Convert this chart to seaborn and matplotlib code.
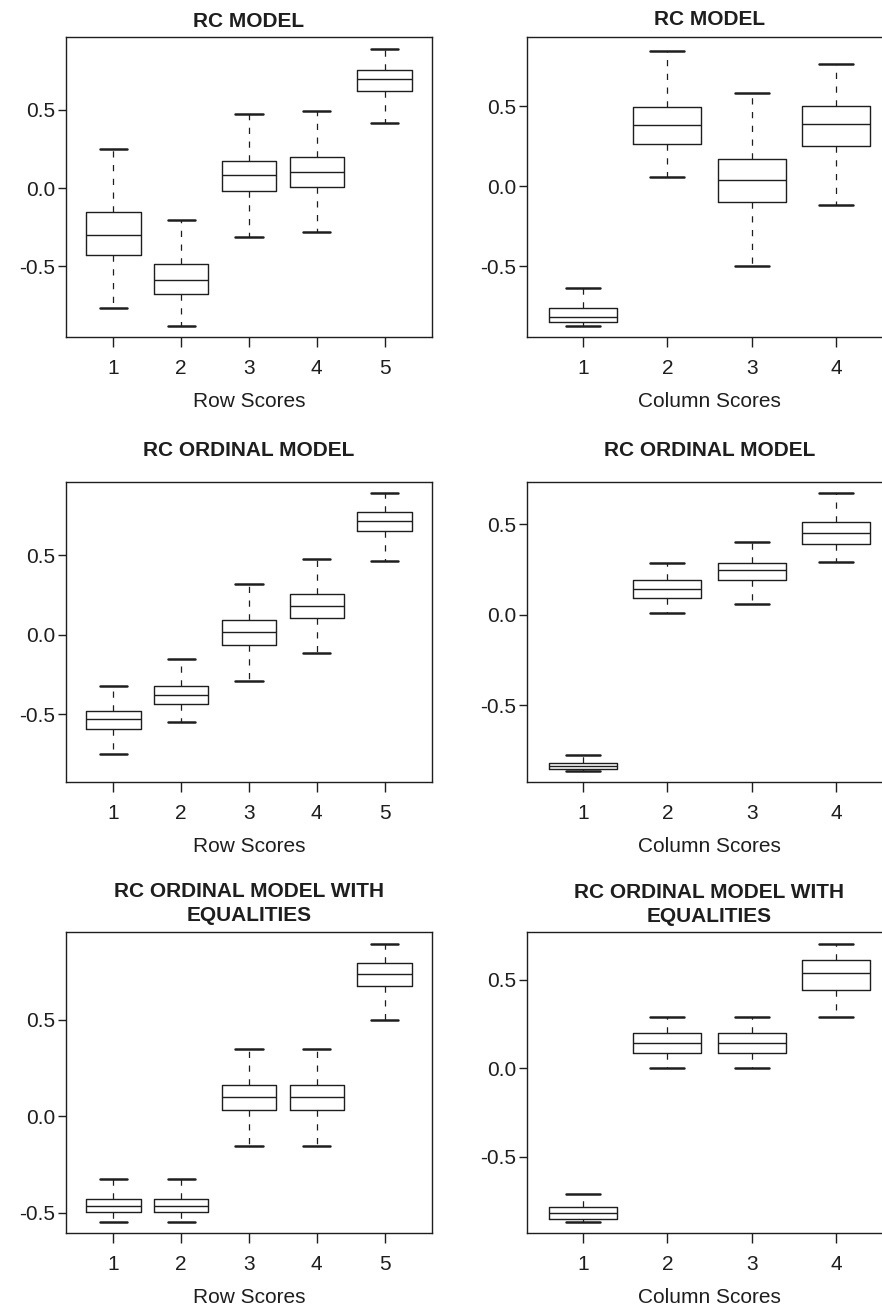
import numpy as np
import pandas as pd
import matplotlib
matplotlib.use("Agg")
import matplotlib.pyplot as plt
import seaborn as sns

# ---- Data: five-number summaries (lower whisker, Q1, median, Q3, upper whisker) ----
row_cats = ["1", "2", "3", "4", "5"]
col_cats = ["1", "2", "3", "4"]

rc_row = [
    [-0.764, -0.430, -0.298, -0.155, 0.249],
    [-0.883, -0.674, -0.585, -0.487, -0.202],
    [-0.311, -0.021, 0.081, 0.174, 0.470],
    [-0.279, 0.004, 0.100, 0.200, 0.489],
    [0.417, 0.621, 0.696, 0.753, 0.889],
]
rc_col = [
    [-0.873, -0.846, -0.813, -0.761, -0.632],
    [0.058, 0.262, 0.380, 0.495, 0.842],
    [-0.497, -0.100, 0.037, 0.170, 0.582],
    [-0.116, 0.254, 0.389, 0.501, 0.763],
]
ord_row = [
    [-0.748, -0.589, -0.530, -0.480, -0.319],
    [-0.547, -0.432, -0.379, -0.319, -0.153],
    [-0.291, -0.061, 0.017, 0.092, 0.323],
    [-0.115, 0.107, 0.182, 0.256, 0.476],
    [0.468, 0.652, 0.719, 0.776, 0.893],
]
ord_col = [
    [-0.865, -0.856, -0.839, -0.821, -0.775],
    [0.007, 0.090, 0.142, 0.192, 0.286],
    [0.057, 0.194, 0.249, 0.288, 0.402],
    [0.290, 0.391, 0.452, 0.511, 0.673],
]
eq_row = [
    [-0.548, -0.498, -0.465, -0.429, -0.327],
    [-0.548, -0.498, -0.465, -0.429, -0.327],
    [-0.157, 0.033, 0.097, 0.159, 0.349],
    [-0.157, 0.033, 0.097, 0.159, 0.349],
    [0.497, 0.673, 0.739, 0.792, 0.894],
]
eq_col = [
    [-0.870, -0.853, -0.819, -0.785, -0.711],
    [0.000, 0.083, 0.142, 0.200, 0.291],
    [0.000, 0.083, 0.142, 0.200, 0.291],
    [0.291, 0.443, 0.536, 0.611, 0.702],
]

titles = ["RC MODEL", "RC MODEL",
          "RC ORDINAL MODEL", "RC ORDINAL MODEL",
          "RC ORDINAL MODEL WITH\nEQUALITIES", "RC ORDINAL MODEL WITH\nEQUALITIES"]
xlabels = ["Row Scores", "Column Scores"] * 3
ylims = [(-0.951, 0.964), (-0.940, 0.931),
         (-0.925, 0.962), (-0.926, 0.734),
         (-0.606, 0.955), (-0.932, 0.770)]
yticks = [-0.5, 0.0, 0.5]
ytick_labels = ["-0.5", "0.0", "0.5"]

datasets = [(rc_row, row_cats), (rc_col, col_cats),
            (ord_row, row_cats), (ord_col, col_cats),
            (eq_row, row_cats), (eq_col, col_cats)]

# ---- Layout (pixel boxes: left, top, right, bottom) ----
W, H = 882, 1306
boxes = [(66, 37, 432, 337), (527, 37, 892, 337),
         (66, 482, 432, 782), (527, 482, 892, 782),
         (66, 932, 432, 1233), (527, 932, 892, 1233)]
title_pads = [7, 8.5, 18.5, 18.5, 8, 7]

sns.set_theme(style="ticks")
plt.rcParams["font.family"] = ["Liberation Sans", "DejaVu Sans"]
plt.rcParams["axes.unicode_minus"] = False

fig = plt.figure(figsize=(W / 100, H / 100), dpi=100)
ink = "#1e1e1e"
fs = 15

for i, ((vals, cats), (l, t, r, b)) in enumerate(zip(datasets, boxes)):
    ax = fig.add_axes([l / W, 1 - b / H, (r - l) / W, (b - t) / H])
    df = pd.DataFrame({
        "score": np.repeat(cats, 5),
        "value": np.concatenate([np.asarray(v) for v in vals]),
    })
    sns.boxplot(
        data=df, x="score", y="value", order=cats, ax=ax,
        fill=False, color=ink, width=0.8, whis=(0, 100), showfliers=False,
        linewidth=1.0,
        whiskerprops={"linestyle": (0, (5, 6)), "linewidth": 0.9},
        capprops={"linewidth": 1.8},
        medianprops={"linewidth": 1.0, "color": ink},
        boxprops={"linewidth": 1.0},
    )
    n = len(cats)
    ax.set_xlim(-0.5 - 0.04 * n, n - 0.5 + 0.04 * n)
    ax.set_ylim(*ylims[i])
    ax.set_yticks(yticks)
    ax.set_yticklabels(ytick_labels)
    ax.tick_params(axis="y", length=5.5, width=1.0, pad=2, labelsize=fs, color=ink, labelcolor=ink)
    ax.tick_params(axis="x", length=7, width=1.0, pad=9, labelsize=fs, color=ink, labelcolor=ink)
    for s in ax.spines.values():
        s.set_visible(True)
        s.set_linewidth(1.0)
        s.set_color(ink)
    ax.set_ylabel("")
    ax.set_xlabel(xlabels[i], fontsize=fs, color=ink)
    ax.xaxis.set_label_coords(0.5, -0.183)
    ax.xaxis.label.set_va("top")
    ax.set_title(titles[i], fontsize=fs, fontweight="bold", pad=title_pads[i],
                 color=ink, linespacing=1.35)
    ax.set_facecolor("white")

fig.savefig("out.png", dpi=100, facecolor="white")
